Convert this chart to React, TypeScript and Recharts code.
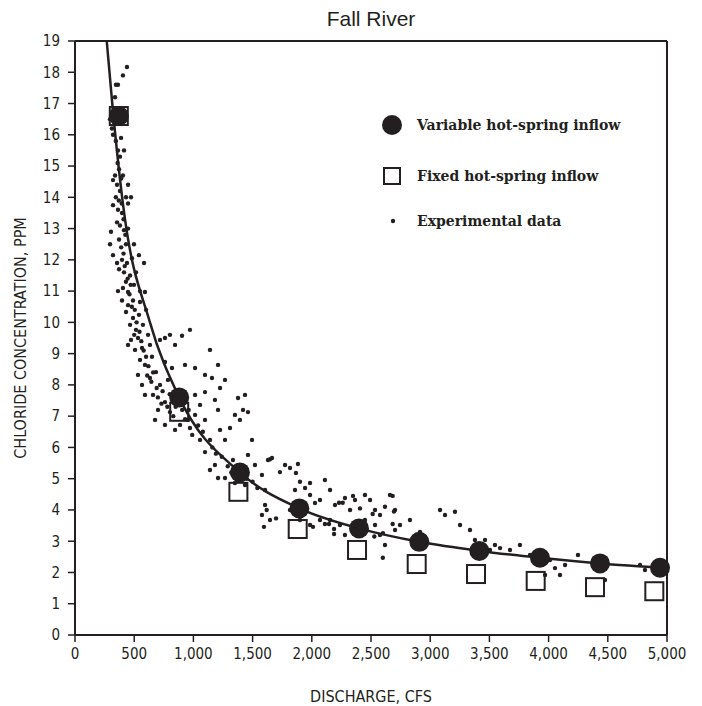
import { ComposedChart, Scatter, Line, XAxis, YAxis, ReferenceLine } from 'recharts'

// model runs: discharge (cfs) and chloride (ppm)
const VARIABLE_Q = [370, 880, 1393, 1895, 2399, 2908, 3415, 3927, 4434, 4941]
const VARIABLE_C = [16.6, 7.6, 5.2, 4.05, 3.41, 2.98, 2.69, 2.47, 2.29, 2.15]
const FIXED_Q = [370, 880, 1380, 1881, 2382, 2886, 3387, 3891, 4392, 4893]
const FIXED_C = [16.6, 7.14, 4.58, 3.39, 2.72, 2.27, 1.95, 1.73, 1.53, 1.4]

// fitted curve
const CURVE_Q = [268, 316, 408, 633, 880, 1393, 1895, 2399, 2908, 3415, 3927, 4434, 4941, 5000]
const CURVE_C = [19, 16.95, 13.7, 10, 7.6, 5.2, 4.05, 3.41, 2.98, 2.69, 2.47, 2.29, 2.15, 2.13]

// experimental data [discharge, chloride]
const EXPERIMENTAL = [
  [439, 18.17], [405, 17.9], [346, 17.6], [363, 17.6], [338, 17.2], [296, 16.5], [312, 16.2], [321, 16.0],
  [389, 15.9], [414, 15.5], [380, 15.3], [363, 15.5], [405, 14.7], [338, 14.7], [321, 14.55], [355, 14.4],
  [380, 14.2], [448, 14.4], [431, 14.0], [321, 13.75], [363, 13.6], [397, 13.5], [448, 13.8], [473, 14.0],
  [355, 13.2], [380, 13.1], [414, 12.95], [448, 13.0], [304, 12.9], [296, 12.5], [372, 12.65], [431, 12.5],
  [498, 12.5], [321, 12.15], [355, 11.9], [397, 12.0], [439, 11.9], [481, 12.05], [540, 12.15], [583, 11.9],
  [372, 11.7], [414, 11.6], [465, 11.5], [515, 11.6], [363, 11.0], [405, 11.1], [448, 10.97], [498, 11.2],
  [549, 11.0], [591, 10.97], [397, 10.7], [448, 10.55], [490, 10.7], [549, 10.65], [431, 10.33], [490, 10.14],
  [540, 10.24], [600, 10.4], [465, 9.92], [515, 9.76], [574, 9.92], [473, 9.44], [532, 9.5], [617, 9.6],
  [507, 9.12], [566, 9.18], [633, 9.28], [448, 9.28], [549, 8.8], [591, 8.64], [650, 8.9], [718, 9.44],
  [760, 9.5], [802, 9.6], [845, 9.28], [904, 9.57], [971, 9.76], [633, 8.22], [684, 8.41], [760, 8.73],
  [819, 8.54], [718, 8.0], [566, 8.0], [532, 8.32], [591, 7.68], [659, 7.68], [785, 8.16], [929, 8.64],
  [1014, 8.54], [1098, 8.32], [1140, 9.12], [1208, 8.64], [760, 7.45], [701, 7.2], [802, 7.13], [676, 6.88],
  [760, 6.72], [845, 6.56], [887, 6.72], [954, 6.88], [1014, 7.68], [1056, 7.36], [1098, 7.77], [1157, 8.22],
  [1225, 7.9], [1267, 8.16], [1182, 7.52], [1208, 7.2], [1098, 6.88], [1014, 7.04], [971, 6.62], [1056, 6.24],
  [1098, 5.85], [1140, 6.24], [1225, 6.56], [1267, 6.24], [1309, 6.62], [1351, 7.04], [1393, 6.88], [1419, 7.2],
  [1461, 7.13], [1436, 7.68], [1377, 7.58], [1334, 5.6], [1182, 5.44], [1208, 5.02], [1140, 5.28], [1267, 5.02],
  [1393, 5.28], [1461, 5.76], [1495, 6.24], [1351, 4.86], [1436, 4.8], [1520, 5.44], [1579, 5.12], [1605, 4.64],
  [1630, 5.6], [1664, 5.66], [1731, 5.21], [1774, 5.44], [1816, 5.34], [1858, 4.64], [1900, 4.9], [1943, 4.7],
  [1985, 4.48], [2027, 4.22], [2069, 4.32], [2111, 4.96], [2154, 4.64], [2196, 4.16], [2280, 4.38], [2323, 4.0],
  [2365, 4.32], [2449, 4.48], [2492, 4.32], [2534, 4.0], [2576, 3.84], [2618, 4.1], [2660, 4.48], [2703, 4.0],
  [1605, 4.16], [1579, 3.84], [1647, 3.68], [1816, 4.0], [1900, 3.68], [1985, 3.52], [2069, 3.68], [2154, 3.68],
  [2238, 3.52], [2280, 3.2], [2365, 3.36], [2449, 3.68], [2534, 3.52], [2576, 3.2], [2618, 2.88], [2703, 3.36],
  [2745, 3.52], [2829, 3.68], [2914, 3.3], [2956, 2.88], [3083, 4.0], [3125, 3.84], [3209, 3.94], [3252, 3.52],
  [3336, 3.36], [3378, 3.04], [3421, 2.88], [3463, 3.04], [3505, 2.72], [3547, 2.88], [3590, 2.78], [3674, 2.72],
  [3758, 2.88], [3843, 2.56], [3927, 2.4], [3970, 1.92], [4012, 2.4], [4054, 2.14], [4096, 1.92], [4139, 2.24],
  [4248, 2.56], [4434, 2.08], [4476, 1.76], [4772, 2.24], [4814, 2.08], [2600, 2.47], [1596, 3.46], [1619, 4.0],
  [1698, 3.73], [1647, 5.62], [1883, 5.47], [1866, 5.18], [1985, 4.86], [2010, 3.46], [2111, 3.55], [2145, 3.55],
  [2188, 3.39], [2188, 3.23], [2230, 4.23], [2261, 4.23], [2348, 4.45], [2407, 4.05], [2514, 3.87], [2528, 3.15],
  [2601, 3.26], [2683, 4.45], [2694, 3.95], [2683, 3.55],
  [350, 16.8], [330, 16.4], [345, 15.8], [360, 15.1], [372, 14.9], [390, 14.6], [345, 14.0], [370, 13.9],
  [395, 13.8], [410, 13.3], [425, 12.8], [390, 12.4], [410, 12.2], [420, 11.8], [445, 11.4], [470, 11.2],
  [430, 11.3], [460, 10.9], [480, 10.5], [505, 10.4], [520, 10.0], [500, 9.6], [545, 9.7], [560, 9.4],
  [580, 9.1], [600, 8.9], [620, 8.6], [610, 8.3], [645, 8.1], [660, 8.4], [690, 7.9], [700, 7.6],
  [730, 7.4], [740, 7.8], [780, 7.3], [800, 7.7], [830, 7.0], [850, 7.3], [905, 7.2], [930, 6.9],
  [960, 7.2], [990, 6.4], [1040, 6.7], [1080, 6.5], [1160, 6.0], [1190, 5.8], [1240, 5.7], [1290, 5.4],
  [1320, 5.2], [1450, 5.0], [1500, 4.9], [1540, 4.7],
]

const X_TICKS = [0, 500, 1000, 1500, 2000, 2500, 3000, 3500, 4000, 4500, 5000]
const Y_TICKS = Array.from({ length: 20 }, (_, i) => i)

const INK = '#231f20'
const NARROW = '"Liberation Sans Narrow", "DejaVu Sans Condensed", "Roboto Condensed", sans-serif'

const variableData = VARIABLE_Q.map((x, i) => ({ x, y: VARIABLE_C[i] }))
const fixedData = FIXED_Q.map((x, i) => ({ x, y: FIXED_C[i] }))
const curveData = CURVE_Q.map((x, i) => ({ x, y: CURVE_C[i] }))
const expData = EXPERIMENTAL.map(([x, y]) => ({ x, y }))

function LegendBox() {
  const txt = { fontFamily: '"DejaVu Serif", serif', fontWeight: 700, fontSize: 14, fill: INK }
  return (
    <svg width={300} height={130} style={{ position: 'absolute', left: 378, top: 108 }}>
      <circle cx={14} cy={17} r={10} fill={INK} />
      <text x={39} y={22} style={txt}>Variable hot-spring inflow</text>
      <rect x={6} y={60} width={16} height={16} fill="none" stroke={INK} strokeWidth={2} />
      <text x={39} y={73} style={txt}>Fixed hot-spring inflow</text>
      <circle cx={15} cy={113} r={2.2} fill={INK} />
      <text x={39} y={118} style={txt}>Experimental data</text>
    </svg>
  )
}

export default function App() {
  return (
    <div style={{ position: 'relative', width: 702, height: 706, background: '#fff' }}>
      <style>{'body{margin:0}'}</style>
      <div
        style={{
          position: 'absolute', top: 7, left: 75, width: 592, textAlign: 'center',
          fontFamily: '"Liberation Sans", Arial, sans-serif', fontSize: 21, color: INK,
        }}
      >
        Fall River
      </div>
      <ComposedChart width={702} height={706} margin={{ top: 41, right: 35, left: 0, bottom: 0 }}>
        <XAxis
          type="number"
          dataKey="x"
          domain={[0, 5000]}
          ticks={X_TICKS}
          tickFormatter={(v) => v.toLocaleString('en-US')}
          height={71}
          tickSize={7}
          tickMargin={6}
          axisLine={{ stroke: INK, strokeWidth: 2 }}
          tickLine={{ stroke: INK, strokeWidth: 1.5 }}
          tick={{ fill: INK, fontSize: 15, fontFamily: NARROW }}
          label={{ value: 'DISCHARGE, CFS', position: 'insideBottom', offset: 4, fill: INK, fontSize: 16, fontFamily: NARROW }}
        />
        <YAxis
          type="number"
          dataKey="y"
          domain={[0, 19]}
          ticks={Y_TICKS}
          interval={0}
          width={75}
          tickSize={7}
          tickMargin={8}
          axisLine={{ stroke: INK, strokeWidth: 2 }}
          tickLine={{ stroke: INK, strokeWidth: 1.5 }}
          tick={{ fill: INK, fontSize: 15, fontFamily: NARROW }}
          label={{
            value: 'CHLORIDE CONCENTRATION,  PPM', angle: -90, position: 'insideLeft', offset: 20,
            style: { textAnchor: 'middle' }, fill: INK, fontSize: 16, fontFamily: NARROW,
          }}
        />
        <ReferenceLine y={19} stroke={INK} strokeWidth={2} />
        <ReferenceLine x={5000} stroke={INK} strokeWidth={2} />
        <Scatter
          name="Fixed hot-spring inflow"
          data={fixedData}
          dataKey="y"
          isAnimationActive={false}
          shape={(p: any) => (
            <rect x={p.cx - 9} y={p.cy - 9} width={18} height={18} fill="none" stroke={INK} strokeWidth={2} />
          )}
        />
        <Scatter
          name="Experimental data"
          data={expData}
          dataKey="y"
          isAnimationActive={false}
          shape={(p: any) => <circle cx={p.cx} cy={p.cy} r={2.2} fill={INK} />}
        />
        <Line
          data={curveData}
          dataKey="y"
          type="monotone"
          stroke={INK}
          strokeWidth={2.5}
          dot={false}
          activeDot={false}
          isAnimationActive={false}
          legendType="none"
        />
        <Scatter
          name="Variable hot-spring inflow"
          data={variableData}
          dataKey="y"
          isAnimationActive={false}
          shape={(p: any) => <circle cx={p.cx} cy={p.cy} r={10} fill={INK} />}
        />
      </ComposedChart>
      <LegendBox />
    </div>
  )
}
